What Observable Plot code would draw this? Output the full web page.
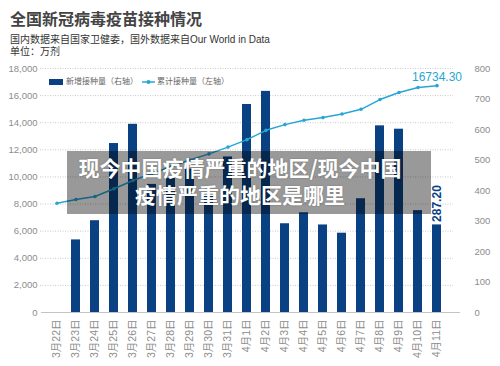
<!DOCTYPE html>
<html><head><meta charset="utf-8">
<script src="https://cdn.jsdelivr.net/npm/d3@7"></script>
<script src="https://cdn.jsdelivr.net/npm/@observablehq/plot@0.6"></script>
<style>
body{margin:0;background:#fff;font-family:"Liberation Sans","Noto Sans CJK SC",sans-serif;}
#wrap{position:relative;width:500px;height:366px;overflow:hidden;background:#fff}
#title{position:absolute;left:10px;top:8px;font-size:16px;font-weight:bold;color:#444;font-family:"Noto Sans CJK SC",sans-serif;line-height:20px;}
#sub{position:absolute;left:10px;top:34px;font-size:10px;color:#333;line-height:12px;}
#chart{position:absolute;left:0;top:58px;}
.lg{position:absolute;top:76px;font-size:8px;color:#666;line-height:11px;white-space:nowrap}
#banner{position:absolute;left:67px;top:151px;width:364px;height:63px;background:rgba(0,0,0,0.4);}
#banner div{position:absolute;left:0;width:346px;top:3px;text-align:center;color:#fff;font-weight:bold;font-size:21px;line-height:26.5px;font-family:"Noto Sans CJK SC",sans-serif;text-shadow:0 0 2px rgba(0,0,0,0.25);white-space:nowrap}
</style></head>
<body>
<div id="wrap">
  <div id="title">全国新冠病毒疫苗接种情况</div>
  <div id="sub">国内数据来自国家卫健委，国外数据来自Our World in Data<br>单位：万剂</div>
  <div id="chart"></div>
  <div class="lg" style="left:49px;"><span style="display:inline-block;width:14px;height:6px;background:#0a4183;vertical-align:middle;margin-right:3px;"></span>新增接种量（右轴）</div>
  <div class="lg" style="left:142px;"><svg width="13" height="6" style="vertical-align:middle;margin-right:2px;"><line x1="0" y1="3" x2="13" y2="3" stroke="#27a6d6" stroke-width="1.5"/><circle cx="6.5" cy="3" r="2" fill="#27a6d6"/></svg>累计接种量（左轴）</div>
  <div id="banner"><div>现今中国疫情严重的地区/现今中国<br>疫情严重的地区是哪里</div></div>
</div>
<script>
const dates = ["3月22日","3月23日","3月24日","3月25日","3月26日","3月27日","3月28日","3月29日","3月30日","3月31日","4月1日","4月2日","4月3日","4月4日","4月5日","4月6日","4月7日","4月8日","4月9日","4月10日","4月11日"];
const dailyDoses = [0,238,301,554,617,420,440,470,390,510,682,725,291,327,287,260,373,612,601,334,287.2];
const cumulativeDoses = [8061,8335,8556,9126,9740,10250,10750,11250,11700,12202,12750,13438,13860,14177,14377,14640,14990,15708,16225,16595,16734.3];
const leftTicks = [0,2000,4000,6000,8000,10000,12000,14000,16000,18000];
const rightTicks = [0,100,200,300,400,500,600,700,800];

const k = 18000 / 800;
const rows = dates.map((d, i) => ({date: d, daily: dailyDoses[i], cum: cumulativeDoses[i]}));
const last = rows[rows.length - 1];
const tickColor = "#8c8c8c";

const chart = Plot.plot({
  width: 500, height: 308,
  marginTop: 10, marginBottom: 54, marginLeft: 43, marginRight: 51,
  style: {fontFamily: "'Liberation Sans','Noto Sans CJK SC',sans-serif", background: "transparent"},
  x: {type: "band", domain: dates, paddingInner: 0.53, paddingOuter: 0.265, axis: null, label: null},
  y: {domain: [0, 18000], axis: null, label: null},
  marks: [
    Plot.gridY(leftTicks.slice(1), {stroke: "#c8c8c8", strokeOpacity: 1, strokeDasharray: "1,1.5", insetLeft: -3, insetRight: -4}),
    Plot.barY(rows.filter(d => d.daily > 0), {x: "date", y: d => d.daily * k, fill: "#0a4183"}),
    Plot.ruleY([0], {stroke: "#c4c4c4", strokeWidth: 1, insetLeft: -2, insetRight: -11}),
    Plot.line(rows, {x: "date", y: "cum", stroke: "#27a6d6", strokeWidth: 1.5}),
    Plot.dot(rows, {x: "date", y: "cum", fill: "#27a6d6", r: 1.8}),
    Plot.text([last], {x: "date", y: "cum", text: d => d.cum.toFixed(2), dy: -9, fill: "#27a6d6", fontSize: 12}),
    Plot.text([last], {x: "date", y: d => d.daily * k, text: d => d.daily.toFixed(2), rotate: -90, textAnchor: "start", dy: -3, fill: "#0a4183", fontSize: 12, fontWeight: "bold"}),
    Plot.axisY(leftTicks, {anchor: "left", label: null, tickSize: 0, tickPadding: 6, fontSize: 9.5, color: tickColor}),
    Plot.axisY(rightTicks.map(v => v * k), {anchor: "right", label: null, tickSize: 0, tickPadding: 25, fontSize: 9.5, color: tickColor, tickFormat: v => String(Math.round(v / k))}),
    Plot.axisX({label: null, tickRotate: -90, tickSize: 0, tickPadding: 7, fontSize: 10.5, color: tickColor})
  ]
});
document.getElementById("chart").appendChild(chart);
</script>
</body></html>
